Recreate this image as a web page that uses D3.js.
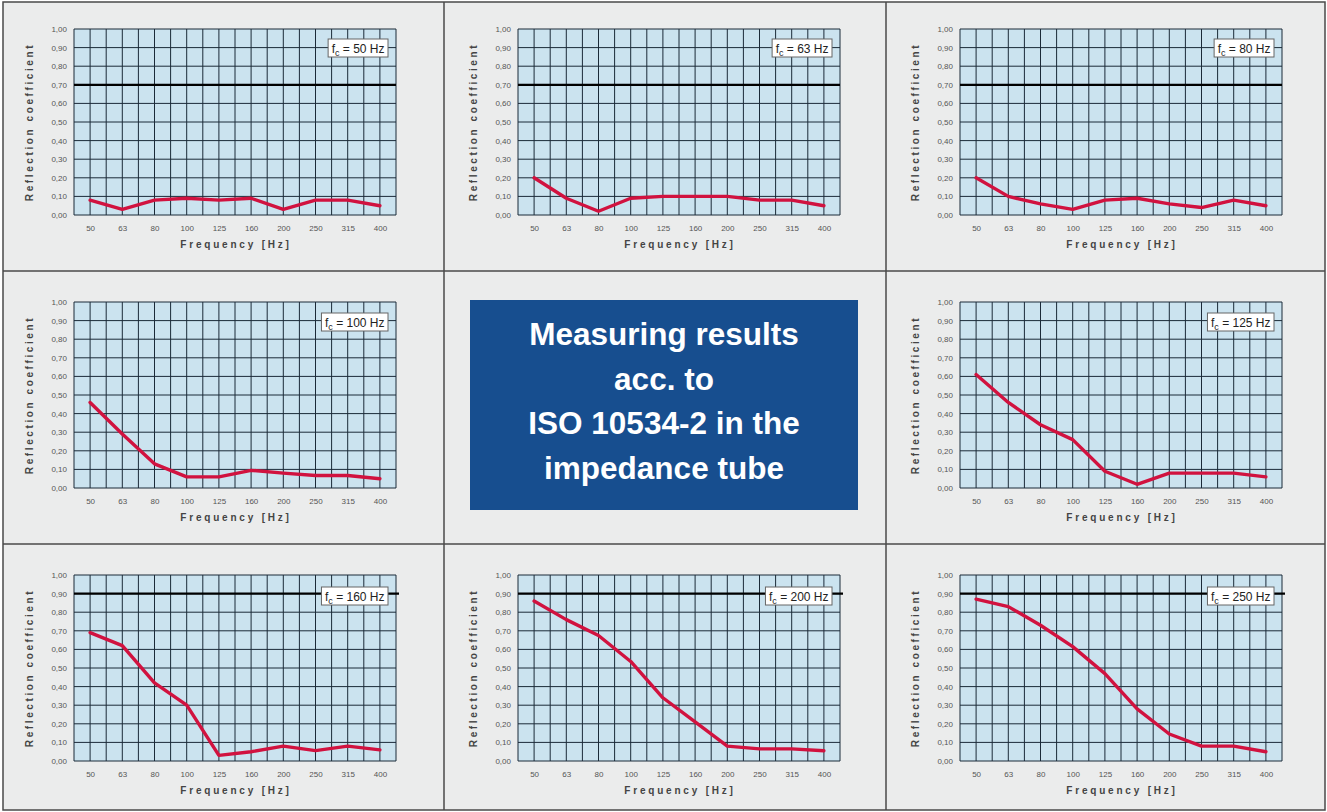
<!DOCTYPE html>
<html>
<head>
<meta charset="utf-8">
<script src="https://cdn.jsdelivr.net/npm/d3@7"></script>
<style>
  html, body { margin: 0; padding: 0; background: #ffffff; }
  svg { display: block; font-family: "Liberation Sans", Arial, sans-serif; }
</style>
</head>
<body>
<svg id="chart" width="1327" height="812"></svg>
<script>
// ---- data ----
const frequencies = ["50", "63", "80", "100", "125", "160", "200", "250", "315", "400"];
const centreFrequencies = ["50", "63", "80", "100", "125", "160", "200", "250"];
const yTickValues = [0, 0.1, 0.2, 0.3, 0.4, 0.5, 0.6, 0.7, 0.8, 0.9, 1.0];

const fc50  = [0.08, 0.03, 0.08, 0.09, 0.08, 0.09, 0.03, 0.08, 0.08, 0.05];
const fc63  = [0.20, 0.09, 0.02, 0.09, 0.10, 0.10, 0.10, 0.08, 0.08, 0.05];
const fc80  = [0.20, 0.10, 0.06, 0.03, 0.08, 0.09, 0.06, 0.04, 0.08, 0.05];
const fc100 = [0.46, 0.29, 0.13, 0.06, 0.06, 0.095, 0.08, 0.067, 0.067, 0.05];
const fc125 = [0.61, 0.46, 0.34, 0.26, 0.09, 0.02, 0.08, 0.08, 0.08, 0.06];
const fc160 = [0.69, 0.62, 0.42, 0.30, 0.03, 0.05, 0.08, 0.056, 0.08, 0.06];
const fc200 = [0.86, 0.76, 0.675, 0.535, 0.34, 0.21, 0.08, 0.065, 0.065, 0.055];
const fc250 = [0.87, 0.83, 0.73, 0.615, 0.47, 0.28, 0.145, 0.08, 0.08, 0.05];

const seriesList = [fc50, fc63, fc80, fc100, fc125, fc160, fc200, fc250];
// bold reference line per panel (top row 0.70, middle none, bottom 0.90)
const referenceLines = [0.7, 0.7, 0.7, null, null, 0.9, 0.9, 0.9];
// grid cell of each panel [col,row]; the middle cell holds the text box
const panelCells = [[0,0],[1,0],[2,0],[0,1],[2,1],[0,2],[1,2],[2,2]];

const boxLines = ["Measuring results", "acc. to", "ISO 10534-2 in the", "impedance tube"];

// ---- layout ----
const svg = d3.select("#chart");
const colX = [3, 444, 886, 1325];
const rowY = [2, 271, 544, 810];
const plotTop = [29, 302, 575];
const plotLeftOffset = [71, 74, 74];
const plotW = 322, plotH = 186;

// background + borders
svg.append("rect").attr("x", colX[0]).attr("y", rowY[0])
  .attr("width", colX[3] - colX[0]).attr("height", rowY[3] - rowY[0])
  .attr("fill", "#ebecec").attr("stroke", "#4a4a4a").attr("stroke-width", 1.5);
[colX[1], colX[2]].forEach(x => {
  svg.append("line").attr("x1", x).attr("x2", x).attr("y1", rowY[0]).attr("y2", rowY[3])
    .attr("stroke", "#4a4a4a").attr("stroke-width", 1.5);
});
[rowY[1], rowY[2]].forEach(y => {
  svg.append("line").attr("x1", colX[0]).attr("x2", colX[3]).attr("y1", y).attr("y2", y)
    .attr("stroke", "#4a4a4a").attr("stroke-width", 1.5);
});

const fmt = v => d3.format(".2f")(v).replace(".", ",");

seriesList.forEach((values, p) => {
  const [c, r] = panelCells[p];
  const left = colX[c] + plotLeftOffset[c];
  const top = plotTop[r];
  const x = d3.scaleLinear().domain([-0.5, 9.5]).range([left, left + plotW]);
  const y = d3.scaleLinear().domain([0, 1]).range([top + plotH, top]);
  const g = svg.append("g");

  g.append("rect").attr("x", left).attr("y", top).attr("width", plotW).attr("height", plotH)
    .attr("fill", "#cbe3ef");

  // vertical grid lines every half step
  const vLines = d3.range(-0.5, 9.51, 0.5);
  g.selectAll(".v").data(vLines).join("line")
    .attr("x1", d => x(d)).attr("x2", d => x(d))
    .attr("y1", top).attr("y2", top + plotH)
    .attr("stroke", "#1b2a38").attr("stroke-width", 1);
  g.selectAll(".h").data(yTickValues).join("line")
    .attr("x1", left).attr("x2", left + plotW)
    .attr("y1", d => y(d)).attr("y2", d => y(d))
    .attr("stroke", "#1b2a38").attr("stroke-width", 1);

  if (referenceLines[p] !== null) {
    g.append("line").attr("x1", left).attr("x2", left + plotW + (r === 2 ? 3 : 0))
      .attr("y1", y(referenceLines[p])).attr("y2", y(referenceLines[p]))
      .attr("stroke", "#000").attr("stroke-width", 2.2);
  }

  // axes (labels only)
  const yAxis = d3.axisLeft(y).tickValues(yTickValues).tickFormat(fmt).tickSize(0).tickPadding(7);
  const ya = g.append("g").attr("transform", `translate(${left},0)`).call(yAxis);
  ya.select(".domain").remove();
  ya.selectAll("text").attr("font-size", 8).attr("fill", "#555").attr("font-family", "Liberation Sans, Arial, sans-serif");

  const xAxis = d3.axisBottom(x).tickValues(d3.range(frequencies.length))
    .tickFormat(i => frequencies[i]).tickSize(0).tickPadding(10);
  const xa = g.append("g").attr("transform", `translate(0,${top + plotH})`).call(xAxis);
  xa.select(".domain").remove();
  xa.selectAll("text").attr("font-size", 8).attr("fill", "#555").attr("font-family", "Liberation Sans, Arial, sans-serif");

  // titles
  g.append("text")
    .attr("transform", `translate(${left - 41},${top + plotH / 2}) rotate(-90)`)
    .attr("text-anchor", "middle")
    .attr("font-size", 10).attr("font-weight", "bold").attr("fill", "#444")
    .attr("letter-spacing", 2.6)
    .text("Reflection coefficient");
  g.append("text")
    .attr("x", left + plotW / 2 + 1).attr("y", top + plotH + 33)
    .attr("text-anchor", "middle")
    .attr("font-size", 10).attr("font-weight", "bold").attr("fill", "#444")
    .attr("letter-spacing", 2.8)
    .text("Frequency [Hz]");

  // data line
  const line = d3.line().x((d, i) => x(i)).y(d => y(d));
  g.append("path").datum(values).attr("d", line)
    .attr("fill", "none").attr("stroke", "#d1123f").attr("stroke-width", 3.4)
    .attr("stroke-linejoin", "round").attr("stroke-linecap", "round");

  // fc label box
  const lg = g.append("g");
  const rect = lg.append("rect").attr("fill", "#ffffff").attr("stroke", "#666").attr("stroke-width", 1);
  const t = lg.append("text").attr("font-size", 12).attr("fill", "#222")
    .attr("x", 0).attr("y", 0);
  t.append("tspan").text("f");
  t.append("tspan").attr("font-size", 9).attr("dy", 3).text("c");
  t.append("tspan").attr("dy", -3).text(" = " + centreFrequencies[p] + " Hz");
  const bb = t.node().getBBox();
  const bw = bb.width + 7, bh = 18;
  const bx = left + plotW - 8 - bw;
  const by = top + (r === 0 ? 10 : (r === 1 ? 11 : 12));
  rect.attr("x", bx).attr("y", by).attr("width", bw).attr("height", bh);
  t.attr("x", bx + 3.5).attr("y", by + 13.5);
  t.selectAll("tspan").filter((d, i) => i === 0).attr("x", bx + 3.5);
});

// central text box
const bx0 = 470, by0 = 300, bw0 = 388, bh0 = 210;
svg.append("rect").attr("x", bx0).attr("y", by0).attr("width", bw0).attr("height", bh0).attr("fill", "#174e8f");
svg.append("g").selectAll("text").data(boxLines).join("text")
  .attr("x", bx0 + bw0 / 2).attr("y", (d, i) => 345 + i * 44.5)
  .attr("text-anchor", "middle").attr("fill", "#ffffff")
  .attr("font-size", 31.5).attr("font-weight", "bold")
  .attr("font-family", "Liberation Sans, Arial, sans-serif")
  .text(d => d);
</script>
</body>
</html>
